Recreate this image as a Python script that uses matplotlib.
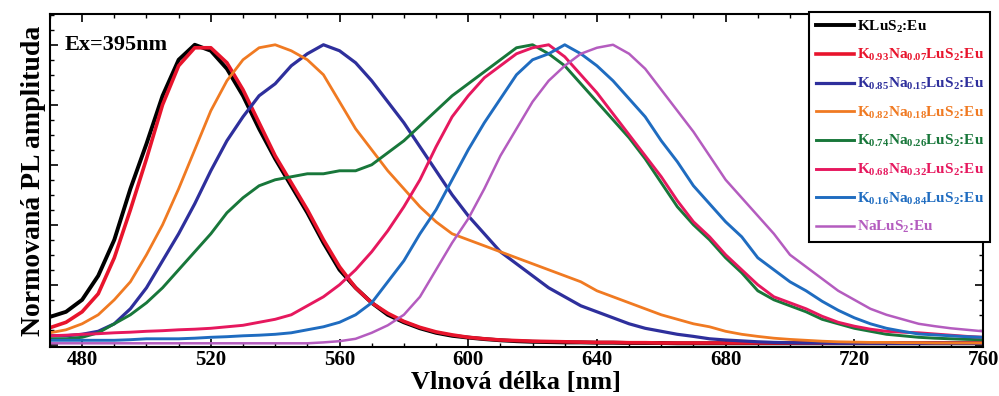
import matplotlib.pyplot as plt
from matplotlib.ticker import MultipleLocator

plt.rcParams['font.family'] = 'Liberation Serif'
plt.rcParams['font.weight'] = 'bold'
plt.rcParams['mathtext.fontset'] = 'custom'
plt.rcParams['mathtext.rm'] = 'Liberation Serif:bold'
plt.rcParams['mathtext.it'] = 'Liberation Serif:bold'
plt.rcParams['mathtext.bf'] = 'Liberation Serif:bold'

# wavelength grid (nm), 5 nm steps
wl = list(range(470, 765, 5))

k100 = [0.093, 0.11, 0.15, 0.23, 0.35, 0.52, 0.67, 0.83, 0.95, 1.00,
        0.98, 0.92, 0.83, 0.72, 0.62, 0.53, 0.44, 0.34, 0.25, 0.19,
        0.14, 0.10, 0.075, 0.055, 0.04, 0.03, 0.024, 0.019, 0.015, 0.012,
        0.01, 0.009, 0.008, 0.008, 0.007, 0.007, 0.006, 0.006, 0.006, 0.005,
        0.005, 0.005, 0.005, 0.005, 0.005, 0.005, 0.005, 0.005, 0.005, 0.005,
        0.005, 0.005, 0.005, 0.005, 0.005, 0.005, 0.005, 0.005, 0.005]
k093 = [0.057, 0.075, 0.11, 0.17, 0.29, 0.45, 0.62, 0.80, 0.93, 0.99,
        0.99, 0.94, 0.85, 0.74, 0.63, 0.54, 0.45, 0.35, 0.26, 0.19,
        0.14, 0.105, 0.078, 0.058, 0.043, 0.033, 0.025, 0.02, 0.016, 0.014,
        0.012, 0.011, 0.01, 0.009, 0.008, 0.008, 0.007, 0.007, 0.006, 0.006,
        0.006, 0.006, 0.006, 0.006, 0.006, 0.006, 0.006, 0.006, 0.006, 0.006,
        0.006, 0.006, 0.006, 0.006, 0.006, 0.006, 0.006, 0.006, 0.006]
k085 = [0.03, 0.03, 0.035, 0.045, 0.07, 0.12, 0.19, 0.28, 0.37, 0.47,
        0.58, 0.68, 0.76, 0.83, 0.87, 0.93, 0.97, 1.00, 0.98, 0.94,
        0.88, 0.81, 0.74, 0.66, 0.58, 0.50, 0.43, 0.37, 0.31, 0.27,
        0.23, 0.19, 0.16, 0.13, 0.11, 0.09, 0.07, 0.055, 0.045, 0.035,
        0.028, 0.02, 0.016, 0.013, 0.01, 0.008, 0.007, 0.006, 0.006, 0.005,
        0.005, 0.005, 0.005, 0.005, 0.005, 0.005, 0.005, 0.005, 0.005]
k082 = [0.04, 0.05, 0.07, 0.10, 0.15, 0.21, 0.30, 0.40, 0.52, 0.65,
        0.78, 0.88, 0.95, 0.99, 1.00, 0.98, 0.95, 0.90, 0.81, 0.72,
        0.65, 0.58, 0.52, 0.46, 0.41, 0.37, 0.35, 0.33, 0.31, 0.29,
        0.27, 0.25, 0.23, 0.21, 0.18, 0.16, 0.14, 0.12, 0.10, 0.085,
        0.07, 0.06, 0.045, 0.035, 0.028, 0.022, 0.018, 0.015, 0.012, 0.01,
        0.009, 0.008, 0.008, 0.007, 0.007, 0.006, 0.006, 0.006, 0.006]
k074 = [0.02, 0.02, 0.025, 0.04, 0.07, 0.10, 0.14, 0.19, 0.25, 0.31,
        0.37, 0.44, 0.49, 0.53, 0.55, 0.56, 0.57, 0.57, 0.58, 0.58,
        0.60, 0.64, 0.68, 0.73, 0.78, 0.83, 0.87, 0.91, 0.95, 0.99,
        1.00, 0.97, 0.93, 0.87, 0.81, 0.75, 0.69, 0.62, 0.54, 0.46,
        0.40, 0.35, 0.29, 0.24, 0.18, 0.15, 0.13, 0.11, 0.085, 0.07,
        0.055, 0.045, 0.035, 0.03, 0.025, 0.022, 0.02, 0.018, 0.017]
k068 = [0.03, 0.032, 0.035, 0.037, 0.04, 0.042, 0.045, 0.047, 0.05, 0.052,
        0.055, 0.06, 0.065, 0.075, 0.085, 0.10, 0.13, 0.16, 0.20, 0.25,
        0.31, 0.38, 0.46, 0.55, 0.66, 0.76, 0.83, 0.89, 0.93, 0.97,
        0.99, 1.00, 0.96, 0.90, 0.84, 0.77, 0.70, 0.63, 0.56, 0.48,
        0.41, 0.36, 0.30, 0.25, 0.20, 0.16, 0.14, 0.12, 0.095, 0.075,
        0.062, 0.052, 0.045, 0.042, 0.04, 0.036, 0.032, 0.028, 0.025]
k016 = [0.015, 0.015, 0.015, 0.015, 0.015, 0.017, 0.02, 0.02, 0.02, 0.022,
        0.025, 0.027, 0.03, 0.032, 0.035, 0.04, 0.05, 0.06, 0.075, 0.10,
        0.14, 0.21, 0.28, 0.37, 0.45, 0.55, 0.65, 0.74, 0.82, 0.90,
        0.95, 0.97, 1.00, 0.97, 0.93, 0.88, 0.82, 0.76, 0.68, 0.61,
        0.53, 0.47, 0.41, 0.36, 0.29, 0.25, 0.21, 0.18, 0.145, 0.115,
        0.09, 0.07, 0.055, 0.045, 0.036, 0.033, 0.03, 0.027, 0.025]
na100 = [0.005, 0.005, 0.005, 0.005, 0.005, 0.005, 0.005, 0.005, 0.005, 0.005,
         0.005, 0.005, 0.005, 0.005, 0.005, 0.005, 0.005, 0.008, 0.012, 0.02,
         0.04, 0.065, 0.10, 0.16, 0.25, 0.34, 0.42, 0.52, 0.63, 0.72,
         0.81, 0.88, 0.93, 0.97, 0.99, 1.00, 0.97, 0.92, 0.85, 0.78,
         0.71, 0.63, 0.55, 0.49, 0.43, 0.37, 0.30, 0.26, 0.22, 0.18,
         0.15, 0.12, 0.10, 0.085, 0.07, 0.062, 0.055, 0.05, 0.045]

series = [k100, k093, k085, k082, k074, k068, k016, na100]
labels = [r'KLuS$_2$:Eu',
          r'K$_{0.93}$Na$_{0.07}$LuS$_2$:Eu',
          r'K$_{0.85}$Na$_{0.15}$LuS$_2$:Eu',
          r'K$_{0.82}$Na$_{0.18}$LuS$_2$:Eu',
          r'K$_{0.74}$Na$_{0.26}$LuS$_2$:Eu',
          r'K$_{0.68}$Na$_{0.32}$LuS$_2$:Eu',
          r'K$_{0.16}$Na$_{0.84}$LuS$_2$:Eu',
          r'NaLuS$_2$:Eu']
colors = ['#000000', '#e8142c', '#2e2f9c', '#f07a22', '#18773a', '#e6185e', '#1f6cc0', '#b45cbf']
widths = [2.8, 2.6, 2.3, 2.0, 2.1, 2.1, 2.1, 1.8]

fig = plt.figure(figsize=(9.99, 3.96), dpi=100)
ax = fig.add_axes([0.050, 0.124, 0.934, 0.841])

for y, lab, c, lw in zip(series, labels, colors, widths):
    ax.plot(wl, y, color=c, lw=lw, label=lab)

ax.set_xlim(470, 760)
ax.set_ylim(-0.007, 1.103)
ax.xaxis.set_major_locator(MultipleLocator(40))
ax.xaxis.set_minor_locator(MultipleLocator(10))
ax.yaxis.set_major_locator(MultipleLocator(0.2))
ax.yaxis.set_minor_locator(MultipleLocator(0.05))
ax.tick_params(which='both', direction='in', top=True, right=True, labelleft=False)
ax.tick_params(which='major', length=6, width=1.2, labelsize=15, pad=2)
ax.tick_params(which='minor', length=3, width=1)
for s in ax.spines.values():
    s.set_linewidth(1.5)

ax.set_xlabel('Vlnová délka [nm]', fontsize=19, fontweight='bold', labelpad=1)
ax.set_ylabel('Normovaná PL amplituda', fontsize=20, fontweight='bold', labelpad=3)
ax.text(0.016, 0.907, 'Ex=395nm', transform=ax.transAxes, fontsize=16, fontweight='bold', va='center')

leg = ax.legend(loc='upper right', bbox_to_anchor=(1.008, 1.006), fontsize=11, labelcolor='linecolor',
                frameon=True, fancybox=False, handlelength=2.5, labelspacing=0.82, borderaxespad=0.0,
                handletextpad=0.15, borderpad=0.45)
leg.get_frame().set_edgecolor('black')
leg.get_frame().set_linewidth(1.5)
leg.get_frame().set_alpha(1.0)

fig.savefig('out.png', dpi=100)
